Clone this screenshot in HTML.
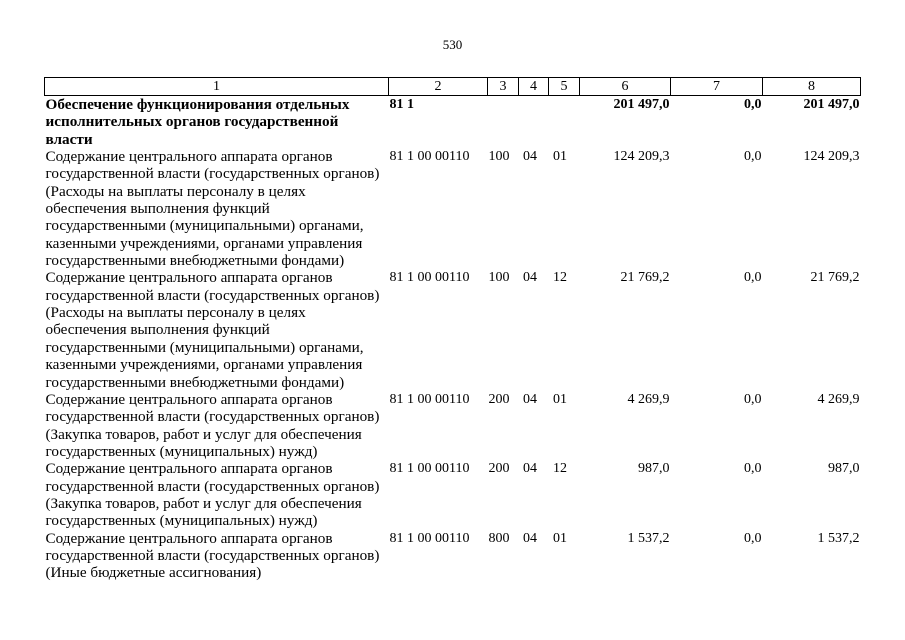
<!DOCTYPE html>
<html><head><meta charset="utf-8"><style>
body{margin:0;background:#fff;width:905px;height:640px;overflow:hidden;font-family:"Liberation Serif",serif;color:#000}
.pn{position:absolute;top:37px;left:0;width:905px;text-align:center;font-size:13px}
table{position:absolute;left:44px;top:77px;border-collapse:collapse;table-layout:fixed;font-size:14px;line-height:17.35px}
td{padding:0 1px;vertical-align:top;white-space:nowrap}
td.t{font-size:15.2px}
tr.h td{border:1px solid #000;text-align:center;height:17px;line-height:17px;padding:0;font-size:14px}
.r{text-align:right}
.b{font-weight:bold}
</style></head><body>
<div class="pn">530</div>
<table>
<colgroup><col style="width:344px"><col style="width:99px"><col style="width:31px"><col style="width:30px"><col style="width:31px"><col style="width:91px"><col style="width:92px"><col style="width:98px"></colgroup>
<tr class="h"><td>1</td><td>2</td><td>3</td><td>4</td><td>5</td><td>6</td><td>7</td><td>8</td></tr>
<tr class="b"><td class="t">Обеспечение функционирования отдельных<br>исполнительных органов государственной<br>власти</td><td>81 1</td><td></td><td></td><td></td><td class="r">201 497,0</td><td class="r">0,0</td><td class="r">201 497,0</td></tr>
<tr><td class="t">Содержание центрального аппарата органов<br>государственной власти (государственных органов)<br>(Расходы на выплаты персоналу в целях<br>обеспечения выполнения функций<br>государственными (муниципальными) органами,<br>казенными учреждениями, органами управления<br>государственными внебюджетными фондами)</td><td>81 1 00 00110</td><td>100</td><td>&nbsp;04</td><td>&nbsp;01</td><td class="r">124 209,3</td><td class="r">0,0</td><td class="r">124 209,3</td></tr>
<tr><td class="t">Содержание центрального аппарата органов<br>государственной власти (государственных органов)<br>(Расходы на выплаты персоналу в целях<br>обеспечения выполнения функций<br>государственными (муниципальными) органами,<br>казенными учреждениями, органами управления<br>государственными внебюджетными фондами)</td><td>81 1 00 00110</td><td>100</td><td>&nbsp;04</td><td>&nbsp;12</td><td class="r">21 769,2</td><td class="r">0,0</td><td class="r">21 769,2</td></tr>
<tr><td class="t">Содержание центрального аппарата органов<br>государственной власти (государственных органов)<br>(Закупка товаров, работ и услуг для обеспечения<br>государственных (муниципальных) нужд)</td><td>81 1 00 00110</td><td>200</td><td>&nbsp;04</td><td>&nbsp;01</td><td class="r">4 269,9</td><td class="r">0,0</td><td class="r">4 269,9</td></tr>
<tr><td class="t">Содержание центрального аппарата органов<br>государственной власти (государственных органов)<br>(Закупка товаров, работ и услуг для обеспечения<br>государственных (муниципальных) нужд)</td><td>81 1 00 00110</td><td>200</td><td>&nbsp;04</td><td>&nbsp;12</td><td class="r">987,0</td><td class="r">0,0</td><td class="r">987,0</td></tr>
<tr><td class="t">Содержание центрального аппарата органов<br>государственной власти (государственных органов)<br>(Иные бюджетные ассигнования)</td><td>81 1 00 00110</td><td>800</td><td>&nbsp;04</td><td>&nbsp;01</td><td class="r">1 537,2</td><td class="r">0,0</td><td class="r">1 537,2</td></tr>
</table>
</body></html>
